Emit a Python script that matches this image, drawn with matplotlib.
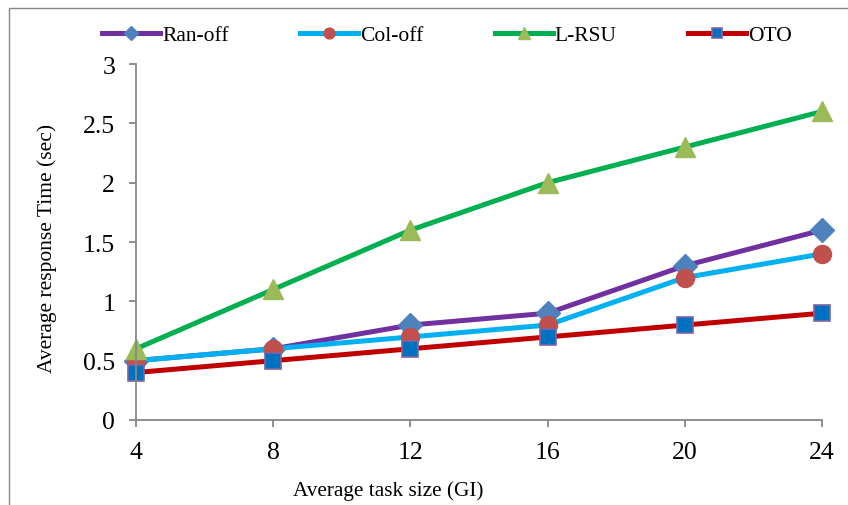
import matplotlib
matplotlib.use("Agg")
import matplotlib.pyplot as plt

plt.rcParams['font.family'] = ['Liberation Serif', 'DejaVu Serif']

# data
task_size = [4, 8, 12, 16, 20, 24]
ran_off = [0.5, 0.6, 0.8, 0.9, 1.3, 1.6]
col_off = [0.5, 0.6, 0.7, 0.8, 1.2, 1.4]
l_rsu = [0.6, 1.1, 1.6, 2.0, 2.3, 2.6]
oto = [0.4, 0.5, 0.6, 0.7, 0.8, 0.9]
y_ticks = [0, 0.5, 1, 1.5, 2, 2.5, 3]
y_tick_labels = ['0', '0.5', '1', '1.5', '2', '2.5', '3']

fig = plt.figure(figsize=(8.48, 5.06), dpi=100)
ax = fig.add_axes([0.1604, 0.168, 0.8089, 0.7035])

ax.plot(task_size, ran_off, color='#7030A0', lw=3.6, marker='D', ms=12,
        mfc='#4F81BD', mec='#4F81BD', label='Ran-off')
ax.plot(task_size, col_off, color='#00B0F0', lw=3.6, marker='o', ms=13,
        mfc='#C0504D', mec='#C0504D', label='Col-off')
ax.plot(task_size, l_rsu, color='#00B050', lw=3.6, marker='^', ms=14,
        mfc='#9BBB59', mec='#9BBB59', label='L-RSU')
ax.plot(task_size, oto, color='#C00000', lw=3.6, marker='s', ms=12,
        mfc='#0070C0', mec='#8064A2', mew=1.2, label='OTO')

ax.set_xlim(4, 24)
ax.set_ylim(0, 3)
ax.set_xticks(task_size)
ax.set_yticks(y_ticks)
ax.set_yticklabels(y_tick_labels)
for s in ['top', 'right']:
    ax.spines[s].set_visible(False)
for s in ['left', 'bottom']:
    ax.spines[s].set_color('#868686')
    ax.spines[s].set_linewidth(1.3)
    ax.spines[s].set_clip_on(False)
ax.tick_params(axis='both', direction='out', length=5, width=1.3,
               color='#868686', labelsize=18.5)
ax.tick_params(axis='x', pad=10)
ax.tick_params(axis='y', pad=10)
for line in ax.get_lines():
    line.set_clip_on(False)

fig.text(0.4575, 0.030, 'Average task size (GI)', fontsize=15.3,
         ha='center', va='center')
fig.text(0.055, 0.51, 'Average response Time (sec)', fontsize=15.5,
         ha='center', va='center', rotation=90)

fig.legend(loc='center', bbox_to_anchor=(0.527, 0.928), ncol=4,
           frameon=False, fontsize=15.5, handlelength=2.7, handletextpad=0.1,
           columnspacing=3.3, borderaxespad=0, markerscale=0.6)

# outer chart border (cut off at right/bottom in the original)
border = plt.Rectangle((9 / 848, -0.2), 2.0, 1.2 - 9 / 506,
                       transform=fig.transFigure, fill=False,
                       edgecolor='#868686', lw=1.0, clip_on=False)
fig.patches.append(border)

fig.savefig('out.png', dpi=100)
